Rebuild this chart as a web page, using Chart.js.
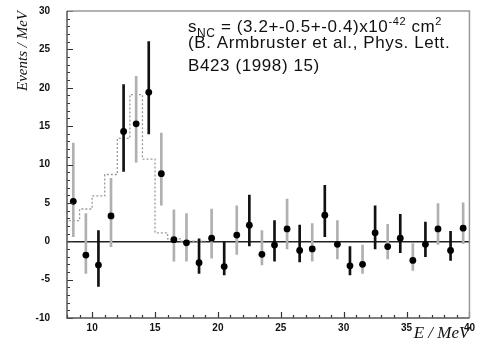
<!DOCTYPE html>
<html>
<head>
<meta charset="utf-8">
<script src="https://cdn.jsdelivr.net/npm/chart.js"></script>
<style>
  body { margin: 0; background: #fff; }
</style>
</head>
<body>
<canvas id="canva_plot" width="479" height="344"></canvas>
<script>
// bin centres (MeV) and measured events / MeV
var energia = [8.5, 9.5, 10.5, 11.5, 12.5, 13.5, 14.5, 15.5, 16.5, 17.5, 18.5, 19.5, 20.5, 21.5, 22.5, 23.5,
               24.5, 25.5, 26.5, 27.5, 28.5, 29.5, 30.5, 31.5, 32.5, 33.5, 34.5, 35.5, 36.5, 37.5, 38.5, 39.5];
var eventos = [5.2, -1.8, -3.1, 3.3, 14.3, 15.3, 19.4, 8.8, 0.2, -0.2, -2.8, 0.4, -3.3, 0.8, 2.1, -1.7,
               -0.5, 1.6, -1.2, -1.0, 3.4, -0.4, -3.2, -3.0, 1.1, -0.7, 0.4, -2.5, -0.4, 1.6, -1.2, 1.7];
var errArriba = [12.8, 3.6, 1.4, 8.2, 20.4, 21.5, 26.0, 14.1, 4.1, 3.6, 0.3, 4.2, -0.1, 4.6, 6.0, 1.4,
                 2.7, 5.5, 2.1, 2.3, 7.3, 2.7, -0.7, -0.5, 4.6, 2.2, 3.5, -0.3, 2.5, 4.9, 1.3, 5.0];
var errAbajo = [0.6, -4.2, -5.9, -0.7, 9.1, 10.3, 14.0, 4.7, -2.6, -2.6, -4.2, -2.2, -4.4, -1.7, -0.6, -3.1,
                -2.6, -1.0, -2.7, -2.6, 0.6, -2.3, -4.4, -4.2, -1.0, -2.3, -1.5, -3.8, -2.0, -0.4, -2.5, -0.3];

// expected signal histogram (left bin edges and heights)
var bordes = [8, 9, 10, 11, 12, 13, 14, 15, 16, 17, 18, 19];
var senal = [1.9, 2.7, 4.2, 5.9, 8.7, 13.4, 19.1, 10.7, 1.1, 0.3, 0, 0];

// axis ticks
var ticksX = [10, 15, 20, 25, 30, 35, 40];
var ticksY = [-10, -5, 0, 5, 10, 15, 20, 25, 30];

var puntos = energia.map(function (e, i) { return {x: e, y: eventos[i]}; });
var barras = energia.map(function (e, i) { return {x: e, y: [errAbajo[i], errArriba[i]]}; });
var colores = energia.map(function (e) {
    var n = Math.floor(e);
    return (n % 2 === 0 && n !== 8 && n !== 16) ? '#111' : '#b0b0b0';
});
var histo = bordes.map(function (b, i) { return {x: b, y: senal[i]}; });

var extras = {
    id: 'extras',
    afterDraw: function (chart) {
        var c = chart.ctx, a = chart.chartArea;
        var sx = chart.scales.x, sy = chart.scales.y;
        c.save();
        c.setLineDash([]);
        // inward tick marks
        c.strokeStyle = '#333';
        c.lineWidth = 1.2;
        c.beginPath();
        for (var v = 8; v <= 40; v++) {
            var px = Math.round(sx.getPixelForValue(v)) + 0.5;
            var len = v % 5 === 0 ? 6 : 3;
            c.moveTo(px, a.bottom);
            c.lineTo(px, a.bottom - len);
        }
        for (var w = -10; w <= 30; w++) {
            var py = Math.round(sy.getPixelForValue(w)) + 0.5;
            var len2 = w % 5 === 0 ? 6 : 3;
            c.moveTo(a.left, py);
            c.lineTo(a.left + len2, py);
        }
        c.stroke();
        // frame
        c.lineWidth = 1.5;
        c.strokeStyle = '#999';
        c.beginPath();
        c.moveTo(a.left, a.top);
        c.lineTo(a.right, a.top);
        c.lineTo(a.right, a.bottom);
        c.stroke();
        c.strokeStyle = '#555';
        c.beginPath();
        c.moveTo(a.left, a.top);
        c.lineTo(a.left, a.bottom);
        c.lineTo(a.right, a.bottom);
        c.stroke();

        // annotation
        c.fillStyle = '#111';
        c.textBaseline = 'alphabetic';
        c.textAlign = 'left';
        c.letterSpacing = '0.6px';
        var x = 188;
        var trozos = [
            ['s', 17, 0], ['NC', 12, 5], [' = (3.2+-0.5+-0.4)x10', 17, 0],
            ['-42', 11, -7], [' cm', 17, 0], ['2', 11, -7]
        ];
        trozos.forEach(function (t) {
            c.font = t[1] + 'px "Liberation Sans", Arial, sans-serif';
            c.fillText(t[0], x, 32 + t[2]);
            x += c.measureText(t[0]).width;
        });
        c.font = '17px "Liberation Sans", Arial, sans-serif';
        c.fillText('(B. Armbruster et al., Phys. Lett.', 188, 48);
        c.fillText('B423 (1998) 15)', 188, 71);
        c.restore();
    }
};

var ctx = document.getElementById('canva_plot').getContext('2d');
var grafico = new Chart(ctx, {
    type: 'scatter',
    data: {
        datasets: [{
            type: 'scatter',
            label: 'events',
            data: puntos,
            pointStyle: 'circle',
            pointRadius: 3.4,
            backgroundColor: '#000',
            borderColor: '#000',
            borderWidth: 0,
            order: 1
        }, {
            type: 'bar',
            label: 'errors',
            data: barras,
            backgroundColor: colores,
            borderWidth: 0,
            barThickness: 2,
            grouped: false,
            order: 2
        }, {
            type: 'line',
            label: 'signal',
            data: histo,
            stepped: 'after',
            borderColor: '#999',
            borderWidth: 1.3,
            borderDash: [2, 2],
            pointRadius: 0,
            fill: false,
            order: 3
        }]
    },
    options: {
        responsive: false,
        animation: false,
        events: [],
        layout: { padding: { left: 0, right: 7, top: 11, bottom: 0 } },
        plugins: { legend: { display: false }, tooltip: { enabled: false } },
        scales: {
            x: {
                type: 'linear',
                min: 8,
                max: 40,
                offset: false,
                afterFit: function (s) { s.height = 26; },
                afterBuildTicks: function (s) { s.ticks = ticksX.map(function (v) { return {value: v}; }); },
                grid: { display: false, drawTicks: false },
                border: { display: false },
                ticks: {
                    padding: 4,
                    color: '#111',
                    maxRotation: 0,
                    autoSkip: false,
                    font: { family: '"Liberation Sans", Arial, sans-serif', size: 10, weight: 'bold' }
                },
                title: {
                    display: true,
                    text: 'E / MeV',
                    align: 'end',
                    color: '#111',
                    padding: { top: -12, bottom: 0 },
                    font: { family: '"Liberation Serif", serif', size: 17, style: 'italic' }
                }
            },
            y: {
                type: 'linear',
                min: -10,
                max: 30,
                afterFit: function (s) { s.width = 67; s.paddingTop = 0; s.paddingBottom = 0; },
                afterBuildTicks: function (s) { s.ticks = ticksY.map(function (v) { return {value: v}; }); },
                grid: {
                    drawTicks: false,
                    lineWidth: 1.5,
                    color: function (c) { return c.tick && c.tick.value === 0 ? '#222' : 'rgba(0,0,0,0)'; }
                },
                border: { display: false },
                ticks: {
                    padding: 17,
                    color: '#111',
                    font: { family: '"Liberation Sans", Arial, sans-serif', size: 10, weight: 'bold' }
                },
                title: {
                    display: true,
                    text: 'Events / MeV',
                    align: 'end',
                    color: '#111',
                    padding: { top: 14, bottom: 0 },
                    font: { family: '"Liberation Serif", serif', size: 15, style: 'italic' }
                }
            }
        }
    },
    plugins: [extras]
});
</script>
</body>
</html>
